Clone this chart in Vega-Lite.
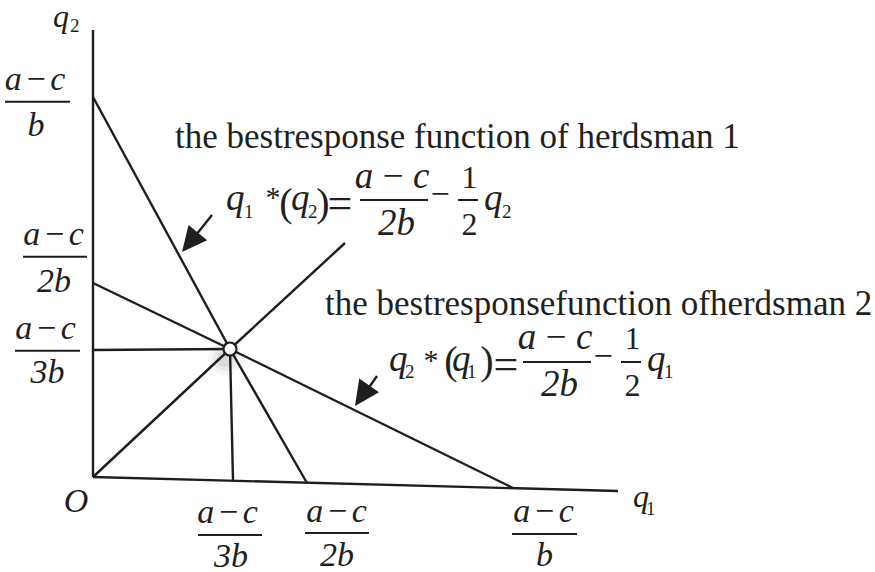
{
  "$schema": "https://vega.github.io/schema/vega-lite/v6.json",
  "width": 875,
  "height": 572,
  "padding": 0,
  "autosize": {"type": "none"},
  "background": "#ffffff",
  "config": {"view": {"stroke": null}},
  "datasets": {
    "lines": [
      {"seg": "yaxis", "i": 0, "x": 93, "y": 30}, {"seg": "yaxis", "i": 1, "x": 93, "y": 477},
      {"seg": "xaxis", "i": 0, "x": 93, "y": 477}, {"seg": "xaxis", "i": 1, "x": 618, "y": 491},
      {"seg": "br1", "i": 0, "x": 93, "y": 97}, {"seg": "br1", "i": 1, "x": 230, "y": 349}, {"seg": "br1", "i": 2, "x": 307, "y": 483},
      {"seg": "br2", "i": 0, "x": 93, "y": 283}, {"seg": "br2", "i": 1, "x": 230, "y": 349}, {"seg": "br2", "i": 2, "x": 513, "y": 488},
      {"seg": "ray", "i": 0, "x": 93, "y": 477}, {"seg": "ray", "i": 1, "x": 230, "y": 349}, {"seg": "ray", "i": 2, "x": 345, "y": 243},
      {"seg": "h", "i": 0, "x": 93, "y": 350}, {"seg": "h", "i": 1, "x": 230, "y": 349},
      {"seg": "v", "i": 0, "x": 230, "y": 349}, {"seg": "v", "i": 1, "x": 233, "y": 481},
      {"seg": "a1", "i": 0, "x": 212, "y": 215}, {"seg": "a1", "i": 1, "x": 192, "y": 240},
      {"seg": "a2", "i": 0, "x": 377, "y": 376}, {"seg": "a2", "i": 1, "x": 363, "y": 396}
    ],
    "eq": [{"x": 230, "y": 349}],
    "shadow": [{"x": 225, "y": 359}],
    "tip1": [{"x": 182, "y": 252}],
    "tip2": [{"x": 355, "y": 406}],
    "bars": [
      {"x1": 5, "x2": 70, "y": 101.7},
      {"x1": 23, "x2": 87, "y": 256.7},
      {"x1": 15, "x2": 80, "y": 350.7},
      {"x1": 198, "x2": 262, "y": 535},
      {"x1": 305, "x2": 369, "y": 533},
      {"x1": 512, "x2": 577, "y": 534},
      {"x1": 360, "x2": 428, "y": 200},
      {"x1": 458, "x2": 478, "y": 200},
      {"x1": 523, "x2": 591, "y": 362},
      {"x1": 621, "x2": 641, "y": 362}
    ],
    "prose": [
      {"t": "the bestresponse function of herdsman 1", "x": 175, "y": 148},
      {"t": "the bestresponsefunction ofherdsman 2", "x": 325, "y": 315}
    ],
    "axisfrac": [
      {"t": "a\u200a\u2212\u200ac", "x": 35, "y": 90}, {"t": "b", "x": 36, "y": 136},
      {"t": "a\u200a\u2212\u200ac", "x": 53.5, "y": 245}, {"t": "2b", "x": 54, "y": 292},
      {"t": "a\u200a\u2212\u200ac", "x": 45.5, "y": 339}, {"t": "3b", "x": 47.5, "y": 383},
      {"t": "a\u200a\u2212\u200ac", "x": 227.5, "y": 523}, {"t": "3b", "x": 231, "y": 567},
      {"t": "a\u200a\u2212\u200ac", "x": 336.5, "y": 522}, {"t": "2b", "x": 337, "y": 566},
      {"t": "a\u200a\u2212\u200ac", "x": 543.5, "y": 522}, {"t": "b", "x": 544.5, "y": 566},
      {"t": "O", "x": 76, "y": 512}
    ],
    "formfrac": [
      {"t": "a\u2009\u2212\u2009c", "x": 392, "y": 188}, {"t": "2b", "x": 396.5, "y": 235},
      {"t": "a\u2009\u2212\u2009c", "x": 555, "y": 349}, {"t": "2b", "x": 559.5, "y": 396}
    ],
    "formq": [
      {"t": "q", "x": 226, "y": 210}, {"t": "q", "x": 291, "y": 210}, {"t": "q", "x": 484, "y": 210},
      {"t": "q", "x": 389, "y": 371}, {"t": "q", "x": 452, "y": 371}, {"t": "q", "x": 647, "y": 371}
    ],
    "axisq": [
      {"t": "q", "x": 53, "y": 27}, {"t": "q", "x": 633, "y": 507}
    ],
    "subs": [
      {"t": "1", "x": 244, "y": 218}, {"t": "2", "x": 308, "y": 218}, {"t": "2", "x": 502, "y": 218},
      {"t": "2", "x": 405, "y": 378}, {"t": "1", "x": 467, "y": 378}, {"t": "1", "x": 664, "y": 378},
      {"t": "2", "x": 70, "y": 32}, {"t": "1", "x": 646, "y": 515}
    ],
    "parens": [
      {"t": "(", "x": 286, "y": 216}, {"t": ")", "x": 323, "y": 216},
      {"t": "(", "x": 451, "y": 374}, {"t": ")", "x": 487, "y": 374}
    ],
    "equals": [
      {"t": "=", "x": 340, "y": 218}, {"t": "=", "x": 506, "y": 379}
    ],
    "stars": [
      {"t": "*", "x": 273, "y": 207}, {"t": "*", "x": 431, "y": 370}
    ],
    "minus": [
      {"t": "\u2212", "x": 440, "y": 205}, {"t": "\u2212", "x": 603, "y": 367}
    ],
    "half": [
      {"t": "1", "x": 469.5, "y": 188}, {"t": "2", "x": 469.5, "y": 235},
      {"t": "1", "x": 632.5, "y": 349}, {"t": "2", "x": 632.5, "y": 396}
    ]
  },
  "encoding": {
    "x": {"field": "x", "type": "quantitative", "scale": {"domain": [0, 875], "nice": false, "zero": false}, "axis": null},
    "y": {"field": "y", "type": "quantitative", "scale": {"domain": [0, 572], "nice": false, "zero": false, "reverse": true}, "axis": null}
  },
  "layer": [
    {"data": {"name": "shadow"}, "mark": {"type": "circle", "size": 1100, "color": "#555555", "opacity": 0.05}},
    {"data": {"name": "shadow"}, "mark": {"type": "circle", "size": 600, "color": "#555555", "opacity": 0.07}},
    {"data": {"name": "shadow"}, "mark": {"type": "circle", "size": 280, "color": "#555555", "opacity": 0.1}},
    {
      "data": {"name": "lines"},
      "mark": {"type": "line", "color": "#1e1e1e", "strokeWidth": 2.4, "strokeCap": "butt"},
      "encoding": {"detail": {"field": "seg"}, "order": {"field": "i", "type": "quantitative"}}
    },
    {
      "data": {"name": "tip1"},
      "mark": {"type": "point", "shape": "M0,0L-0.48,1L0.48,1Z", "size": 2500, "filled": true, "color": "#1e1e1e", "opacity": 1, "angle": 219.3, "strokeWidth": 0}
    },
    {
      "data": {"name": "tip2"},
      "mark": {"type": "point", "shape": "M0,0L-0.48,1L0.48,1Z", "size": 2500, "filled": true, "color": "#1e1e1e", "opacity": 1, "angle": 214.4, "strokeWidth": 0}
    },
    {
      "data": {"name": "eq"},
      "mark": {"type": "point", "shape": "circle", "size": 170, "filled": true, "fill": "#ffffff", "stroke": "#1e1e1e", "strokeWidth": 2.2, "opacity": 1}
    },
    {
      "data": {"name": "bars"},
      "mark": {"type": "rule", "color": "#1e1e1e", "strokeWidth": 2},
      "encoding": {
        "x": {"field": "x1", "type": "quantitative"},
        "x2": {"field": "x2"},
        "y": {"field": "y", "type": "quantitative"}
      }
    },
    {
      "data": {"name": "prose"},
      "mark": {"type": "text", "font": "Liberation Serif, Times New Roman, serif", "fontSize": 35, "align": "left", "baseline": "alphabetic", "color": "#231f20"},
      "encoding": {"text": {"field": "t"}}
    },
    {
      "data": {"name": "axisfrac"},
      "mark": {"type": "text", "font": "Liberation Serif, serif", "fontStyle": "italic", "fontSize": 34, "align": "center", "baseline": "alphabetic", "color": "#231f20"},
      "encoding": {"text": {"field": "t"}}
    },
    {
      "data": {"name": "formfrac"},
      "mark": {"type": "text", "font": "Liberation Serif, serif", "fontStyle": "italic", "fontSize": 37, "align": "center", "baseline": "alphabetic", "color": "#231f20"},
      "encoding": {"text": {"field": "t"}}
    },
    {
      "data": {"name": "formq"},
      "mark": {"type": "text", "font": "Liberation Serif, serif", "fontStyle": "italic", "fontSize": 37, "align": "left", "baseline": "alphabetic", "color": "#231f20"},
      "encoding": {"text": {"field": "t"}}
    },
    {
      "data": {"name": "axisq"},
      "mark": {"type": "text", "font": "Liberation Serif, serif", "fontStyle": "italic", "fontSize": 32, "align": "left", "baseline": "alphabetic", "color": "#231f20"},
      "encoding": {"text": {"field": "t"}}
    },
    {
      "data": {"name": "subs"},
      "mark": {"type": "text", "font": "Liberation Serif, serif", "fontSize": 19, "align": "left", "baseline": "alphabetic", "color": "#231f20"},
      "encoding": {"text": {"field": "t"}}
    },
    {
      "data": {"name": "parens"},
      "mark": {"type": "text", "font": "Liberation Serif, serif", "fontSize": 40, "align": "center", "baseline": "alphabetic", "color": "#231f20"},
      "encoding": {"text": {"field": "t"}}
    },
    {
      "data": {"name": "equals"},
      "mark": {"type": "text", "font": "Liberation Serif, serif", "fontSize": 44, "align": "center", "baseline": "alphabetic", "color": "#231f20"},
      "encoding": {"text": {"field": "t"}}
    },
    {
      "data": {"name": "stars"},
      "mark": {"type": "text", "font": "Liberation Serif, serif", "fontSize": 30, "align": "center", "baseline": "alphabetic", "color": "#231f20"},
      "encoding": {"text": {"field": "t"}}
    },
    {
      "data": {"name": "minus"},
      "mark": {"type": "text", "font": "Liberation Serif, serif", "fontSize": 34, "align": "center", "baseline": "alphabetic", "color": "#231f20"},
      "encoding": {"text": {"field": "t"}}
    },
    {
      "data": {"name": "half"},
      "mark": {"type": "text", "font": "Liberation Serif, serif", "fontSize": 32, "align": "center", "baseline": "alphabetic", "color": "#231f20"},
      "encoding": {"text": {"field": "t"}}
    }
  ]
}
